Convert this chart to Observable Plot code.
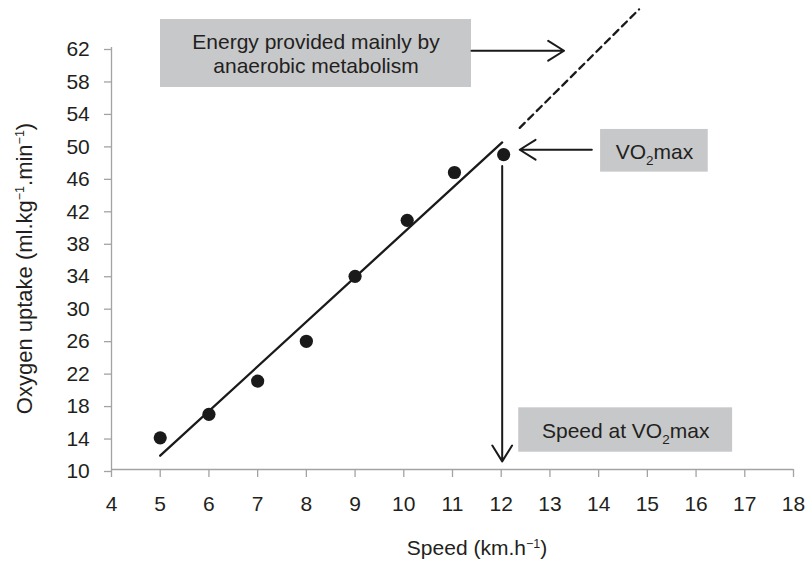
<!DOCTYPE html>
<html>
<head>
<meta charset="utf-8">
<script src="https://cdn.jsdelivr.net/npm/d3@7"></script>
<script src="https://cdn.jsdelivr.net/npm/@observablehq/plot@0.6"></script>
<style>
  html, body { margin: 0; padding: 0; background: #fff; }
  #chart svg { display: block; }
</style>
</head>
<body>
<div id="chart"></div>
<script>
// Incremental running test: measured oxygen uptake at each stage
const speed = [5, 6, 7, 8, 9, 10.07, 11.04, 12.05];
const vo2 = [13.9, 16.8, 20.9, 25.8, 33.8, 40.7, 46.6, 48.8];

// Linear trend through the aerobic stages, and its extrapolation beyond VO2max
const fitSpeed = [5, 12.02];
const fitVo2 = [11.7, 50.3];
const extSpeed = [12.38, 14.83];
const extVo2 = [52.1, 66.7];

// Axis ticks
const xTicks = [4, 5, 6, 7, 8, 9, 10, 11, 12, 13, 14, 15, 16, 17, 18];
const yTicks = [10, 14, 18, 22, 26, 30, 34, 38, 42, 46, 50, 54, 58, 62];

// Axis titles
const xTitle = "Speed (km.h⁻¹)";
const yTitle = "Oxygen uptake (ml.kg⁻¹.min⁻¹)";

// Callout boxes (in data units) and the arrows that go with them
const noteText = ["Energy provided mainly by\nanaerobic metabolism", "VO₂max", "Speed at VO₂max"];
const noteX1 = [5.006, 14.04, 12.36];
const noteX2 = [11.39, 16.25, 16.75];
const noteY1 = [57.07, 46.64, 12.13];
const noteY2 = [65.45, 51.9, 17.6];

const arrowX1 = [11.39, 13.86, 12.02];
const arrowY1 = [61.6, 49.4, 47.4];
const arrowX2 = [13.29, 12.38, 12.02];
const arrowY2 = [61.6, 49.4, 11.0];

const points = speed.map((s, i) => ({speed: s, vo2: vo2[i]}));
const fit = fitSpeed.map((s, i) => ({speed: s, vo2: fitVo2[i]}));
const ext = extSpeed.map((s, i) => ({speed: s, vo2: extVo2[i]}));
const notes = noteText.map((text, i) => ({text, x1: noteX1[i], x2: noteX2[i], y1: noteY1[i], y2: noteY2[i]}));
const arrows = arrowX1.map((x1, i) => ({x1, y1: arrowY1[i], x2: arrowX2[i], y2: arrowY2[i]}));

const ink = "#231f20";
const axisGray = "#a3a3a3";
const boxFill = "#c7c8ca";

const chart = Plot.plot({
  width: 810,
  height: 563,
  marginLeft: 111,
  marginRight: 17,
  marginTop: 47,
  marginBottom: 94,
  style: {fontFamily: "'Liberation Sans', Arial, Helvetica, sans-serif", fontSize: "21px", color: ink, background: "#fff"},
  x: {domain: [4, 18]},
  y: {domain: [10, 62]},
  marks: [
    // axes
    Plot.ruleY([10], {stroke: axisGray, strokeWidth: 1.3}),
    Plot.ruleX([4], {stroke: axisGray, strokeWidth: 1.3}),
    Plot.axisX(xTicks, {tickSize: 8, tickPadding: 19, stroke: axisGray, fill: ink, strokeWidth: 1.3, label: null, tickFormat: d => String(d)}),
    Plot.axisY(yTicks, {tickSize: 7, tickPadding: 14.7, stroke: axisGray, fill: ink, strokeWidth: 1.3, label: null, dy: 2, tickFormat: d => String(d)}),
    Plot.text([xTitle], {frameAnchor: "bottom", textAnchor: "middle", lineAnchor: "middle", dx: 24.5, dy: 79, fill: ink}),
    Plot.text([yTitle], {frameAnchor: "left", textAnchor: "middle", lineAnchor: "middle", rotate: -90, dx: -87, dy: 10, fontSize: 22, fill: ink}),

    // callout boxes
    Plot.rect(notes, {x1: "x1", x2: "x2", y1: "y1", y2: "y2", fill: boxFill}),
    Plot.text(notes, {x: d => (d.x1 + d.x2) / 2, y: d => (d.y1 + d.y2) / 2, text: "text", fill: ink, lineHeight: 1.16}),
    Plot.arrow(arrows, {x1: "x1", y1: "y1", x2: "x2", y2: "y2", stroke: "#1a1a1a", strokeWidth: 2, headLength: 14, headAngle: 64}),

    // trend line and its extrapolation
    Plot.line(fit, {x: "speed", y: "vo2", stroke: "#1a1a1a", strokeWidth: 2.3}),
    Plot.line(ext, {x: "speed", y: "vo2", stroke: "#1a1a1a", strokeWidth: 2.3, strokeDasharray: "7,5"}),

    // measured points
    Plot.dot(points, {x: "speed", y: "vo2", r: 6.6, fill: "#1a1a1a", stroke: "none"})
  ]
});

// Render subscript "2" and superscript "-1" as smaller, shifted tspans
function setScripts(svg) {
  const NS = "http://www.w3.org/2000/svg";
  for (const t of svg.querySelectorAll("text")) {
    const walker = document.createTreeWalker(t, NodeFilter.SHOW_TEXT);
    const nodes = [];
    while (walker.nextNode()) nodes.push(walker.currentNode);
    for (const node of nodes) {
      const s = node.nodeValue;
      if (!/₂|⁻¹/.test(s)) continue;
      const frag = document.createDocumentFragment();
      let shift = 0;
      for (const part of s.split(/(₂|⁻¹)/)) {
        if (!part) continue;
        const ts = document.createElementNS(NS, "tspan");
        if (part === "₂") {
          ts.textContent = "2";
          ts.setAttribute("font-size", "13.5");
          ts.setAttribute("dy", String(6 - shift));
          shift = 6;
        } else if (part === "⁻¹") {
          ts.textContent = "−1";
          ts.setAttribute("font-size", "12.5");
          ts.setAttribute("dy", String(-7.5 - shift));
          shift = -7.5;
        } else {
          ts.textContent = part;
          if (shift !== 0) ts.setAttribute("dy", String(-shift));
          shift = 0;
        }
        frag.appendChild(ts);
      }
      node.parentNode.replaceChild(frag, node);
    }
  }
}
setScripts(chart);

document.getElementById("chart").appendChild(chart);
</script>
</body>
</html>
